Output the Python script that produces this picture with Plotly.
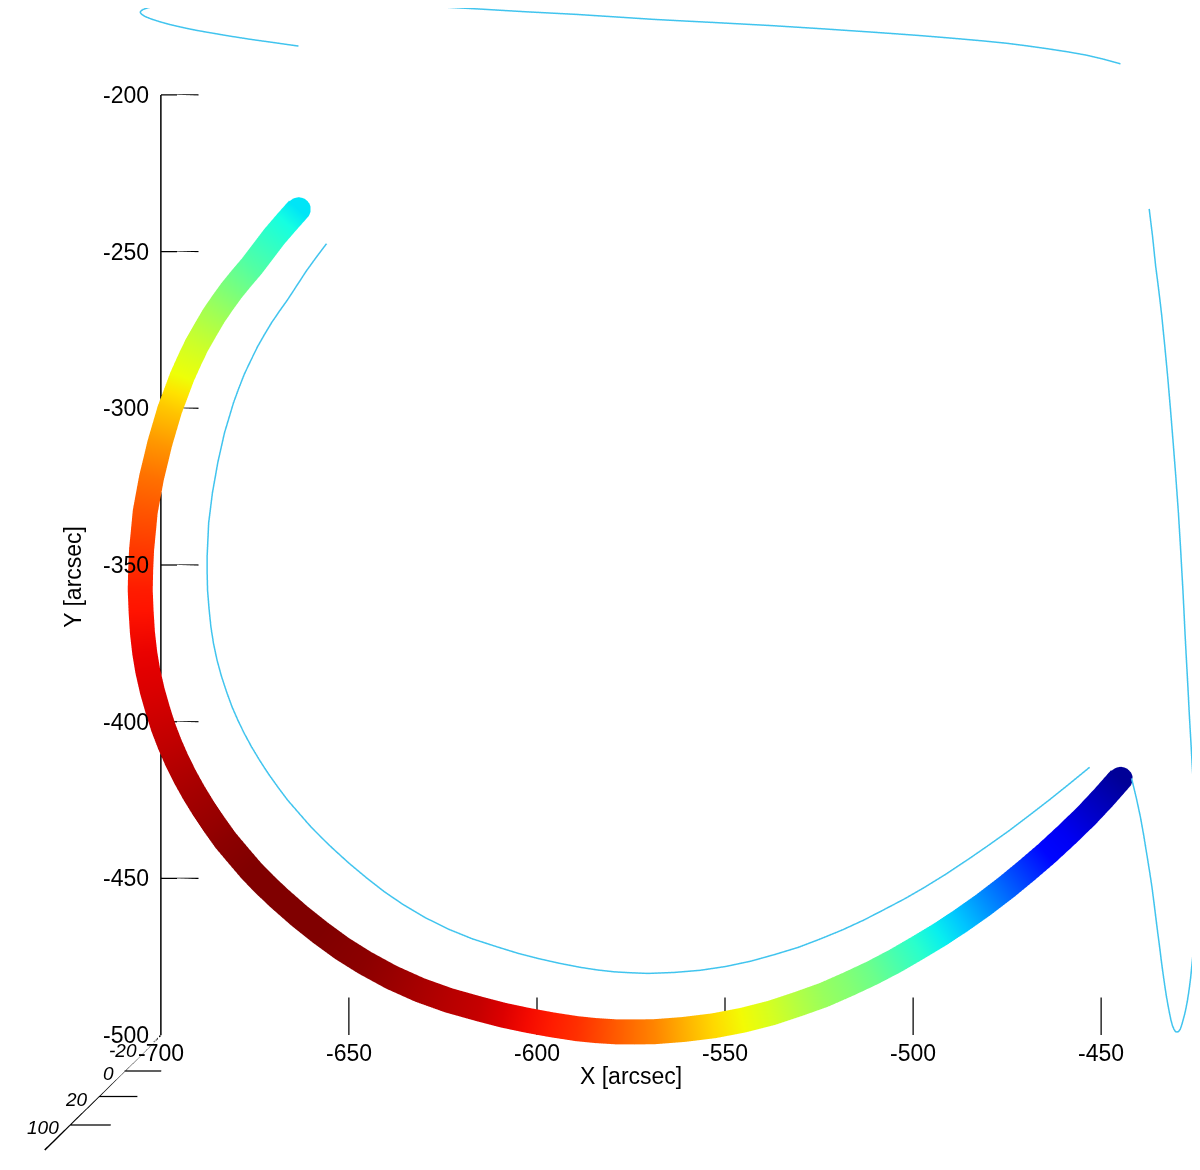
import plotly.graph_objects as go

# loop coordinates [arcsec], height and colour value along the loop
loop_x = [-655.9, -658.6, -661.2, -663.7, -666.2, -668.4, -670.5, -672.4, -674.2, -676.0,
          -677.7, -679.2, -680.6, -681.8, -683.0, -683.9, -684.8, -685.5, -686.2, -686.7,
          -687.2, -687.4, -687.6, -687.6, -687.5, -687.1, -686.6, -685.9, -685.0, -683.8,
          -682.4, -681.0, -679.4, -677.7, -675.8, -673.6, -671.2, -668.7, -666.2, -663.3,
          -660.4, -657.4, -654.3, -649.8, -645.2, -640.5, -635.6, -629.7, -623.5, -617.1,
          -610.4, -605.0, -599.5, -593.9, -588.3, -583.9, -579.4, -575.0, -570.5, -563.6,
          -556.6, -549.9, -543.2, -536.9, -530.6, -524.7, -518.8, -513.2, -507.7, -502.3,
          -497.1, -491.3, -485.4, -480.1, -474.7, -469.2, -463.7, -458.5, -453.2]
loop_y = [-247.6, -251.9, -256.2, -260.8, -265.4, -269.1, -272.8, -276.6, -280.4, -284.8,
          -289.1, -293.7, -298.3, -303.1, -307.9, -312.7, -317.5, -322.3, -327.0, -331.8,
          -336.6, -341.9, -347.1, -352.6, -358.0, -363.9, -369.8, -375.1, -380.2, -385.5,
          -390.6, -395.2, -399.6, -403.8, -408.0, -412.4, -416.8, -421.0, -425.0, -429.0,
          -433.0, -436.7, -440.3, -445.2, -449.8, -454.2, -458.2, -462.4, -466.1, -469.2,
          -471.8, -473.8, -475.5, -477.0, -478.3, -479.1, -479.7, -480.0, -480.2, -479.9,
          -479.2, -478.0, -476.3, -474.2, -471.9, -469.2, -466.3, -463.2, -459.8, -456.4,
          -452.8, -448.5, -443.8, -439.4, -434.8, -429.8, -424.7, -419.7, -414.5]
loop_z = [7, 8.2, 9.4, 10.5, 11.6, 12.7, 13.75, 14.8, 15.8, 16.8,
          17.8, 18.8, 19.8, 20.75, 21.7, 22.6, 23.5, 24.35, 25.2, 26.0,
          26.8, 27.55, 28.3, 29.0, 29.7, 30.4, 31.05, 31.7, 32.35, 33.0,
          33.6, 34.2, 34.8, 35.35, 35.9, 36.4, 36.85, 37.25, 37.6, 37.85,
          38.0, 38.0, 37.85, 37.5, 37.0, 36.3, 35.5, 34.6, 33.6, 32.6,
          31.6, 30.7, 29.8, 29.0, 28.2, 27.4, 26.6, 25.8, 25.0, 24.0,
          23.0, 22.0, 21.0, 19.9, 18.8, 17.7, 16.6, 15.5, 14.4, 13.2,
          12.0, 10.6, 9.0, 7.2, 5.2, 3.0, 0.5, -2.5, -6]
loop_c = [0.35, 0.375, 0.40, 0.425, 0.45, 0.475, 0.50, 0.525, 0.55, 0.575,
          0.60, 0.62, 0.64, 0.67, 0.70, 0.725, 0.75, 0.77, 0.79, 0.805,
          0.82, 0.835, 0.85, 0.865, 0.88, 0.89, 0.90, 0.908, 0.915, 0.922,
          0.93, 0.938, 0.945, 0.952, 0.96, 0.968, 0.975, 0.982, 0.99, 0.995,
          1.0, 1.0, 1.0, 1.0, 1.0, 0.995, 0.99, 0.978, 0.965, 0.952,
          0.94, 0.92, 0.90, 0.88, 0.86, 0.838, 0.815, 0.792, 0.77, 0.725,
          0.68, 0.645, 0.61, 0.57, 0.535, 0.51, 0.48, 0.44, 0.40, 0.36,
          0.32, 0.27, 0.22, 0.175, 0.13, 0.10, 0.07, 0.045, 0.02]

x_range = [-700, -450]
y_range = [-500, -200]
z_range = [-32, 56]
x_ticks = [-700, -650, -600, -550, -500, -450]
y_ticks = [-500, -450, -400, -350, -300, -250, -200]
z_ticks = [-20, 0, 20, 40]
z_ticktext = ["-20", "0", "20", "100"]

# classic jet
jet = [[0.0, "rgb(0,0,128)"], [0.11, "rgb(0,0,255)"], [0.125, "rgb(0,0,255)"],
       [0.34, "rgb(0,219,255)"], [0.35, "rgb(0,229,247)"], [0.375, "rgb(21,255,226)"],
       [0.64, "rgb(238,255,8)"], [0.65, "rgb(247,246,0)"], [0.66, "rgb(255,236,0)"],
       [0.89, "rgb(255,19,0)"], [0.91, "rgb(232,0,0)"], [1.0, "rgb(128,0,0)"]]

proj_col = "#40c4ee"
n = len(loop_x)
x0, x1 = x_range
y0, y1 = y_range
z0, z1 = z_range
inset = 0.4  # keep the wall projections just off the box faces

fig = go.Figure()

# projections on the back, top and right walls
for px, py, pz in [(loop_x, loop_y, [z0 + inset] * n),
                   (loop_x, [y1 - inset] * n, loop_z),
                   ([x1 - inset] * n, loop_y, loop_z)]:
    fig.add_trace(go.Scatter3d(x=px, y=py, z=pz, mode="lines",
                               line=dict(color=proj_col, width=3),
                               hoverinfo="skip", showlegend=False))

# axes drawn along the back-bottom-left edges
ax_x = [x0, x1, None, x0, x0, None, x0, x0]
ax_y = [y0, y0, None, y0, y1, None, y0, y0]
ax_z = [z0, z0, None, z0, z0, None, z0, z1]
fig.add_trace(go.Scatter3d(x=ax_x, y=ax_y, z=ax_z, mode="lines",
                           line=dict(color="black", width=3),
                           hoverinfo="skip", showlegend=False))

tx, ty, tz = [], [], []
for t in x_ticks:
    tx += [t, t, None]
    ty += [y0, y0 + 12, None]
    tz += [z0, z0, None]
for t in y_ticks:
    tx += [x0, x0 + 10, None]
    ty += [t, t, None]
    tz += [z0, z0, None]
for t in z_ticks:
    tx += [x0, x0 + 9, None]
    ty += [y0, y0, None]
    tz += [t, t, None]
fig.add_trace(go.Scatter3d(x=tx, y=ty, z=tz, mode="lines",
                           line=dict(color="black", width=2.5),
                           hoverinfo="skip", showlegend=False))

# the loop itself
fig.add_trace(go.Scatter3d(
    x=loop_x, y=loop_y, z=loop_z, mode="lines",
    line=dict(color=loop_c, colorscale=jet, cmin=0, cmax=1, width=50),
    showlegend=False))
# round ends
fig.add_trace(go.Scatter3d(
    x=[loop_x[0], loop_x[-1]], y=[loop_y[0], loop_y[-1]], z=[loop_z[0], loop_z[-1]],
    mode="markers",
    marker=dict(size=14, color=[loop_c[0], loop_c[-1]], colorscale=jet, cmin=0, cmax=1,
                line=dict(width=0)),
    showlegend=False))

tick_font = dict(family="Liberation Sans", size=23, color="black")
title_font = dict(family="Liberation Sans", size=23, color="black")
notes = []
for t in x_ticks:
    notes.append(dict(x=t, y=y0, z=z0, text=str(t), showarrow=False,
                      xanchor="center", yanchor="top", yshift=-3, font=tick_font))
for t in y_ticks:
    notes.append(dict(x=x0, y=t, z=z0, text=str(t), showarrow=False,
                      xanchor="right", yanchor="middle", xshift=-10, font=tick_font))
for t, lab in zip(z_ticks, z_ticktext):
    notes.append(dict(x=x0, y=y0, z=t, text="<i>" + lab + "</i>", showarrow=False,
                      xanchor="right", yanchor="middle", xshift=-9, yshift=-3,
                      font=dict(family="Liberation Sans", size=19, color="black")))
notes.append(dict(x=(x0 + x1) / 2, y=y0, z=z0, text="X [arcsec]", showarrow=False,
                  xanchor="center", yanchor="top", yshift=-26, font=title_font))
notes.append(dict(x=x0, y=(y0 + y1) / 2, z=z0, text="Y [arcsec]", showarrow=False,
                  textangle=-90, xanchor="center", yanchor="middle",
                  xshift=-88, yshift=-12, font=title_font))

hidden = dict(visible=False, showspikes=False, showbackground=False,
              showgrid=False, zeroline=False)

fig.update_layout(
    width=1200, height=1170,
    margin=dict(l=0, r=0, t=0, b=0),
    paper_bgcolor="white",
    scene=dict(
        domain=dict(x=[0, 1], y=[0, 1]),
        xaxis=dict(range=x_range, **hidden),
        yaxis=dict(range=y_range, **hidden),
        zaxis=dict(range=z_range, **hidden),
        aspectmode="manual",
        aspectratio=dict(x=1, y=1, z=0.31),
        camera=dict(eye=dict(x=-0.0245, y=-0.0298, z=1.347),
                    center=dict(x=-0.0245, y=-0.0298, z=0),
                    up=dict(x=0, y=1, z=0),
                    projection=dict(type="perspective")),
        annotations=notes,
    ),
)

fig.write_html("out.html", config={"displayModeBar": False})
